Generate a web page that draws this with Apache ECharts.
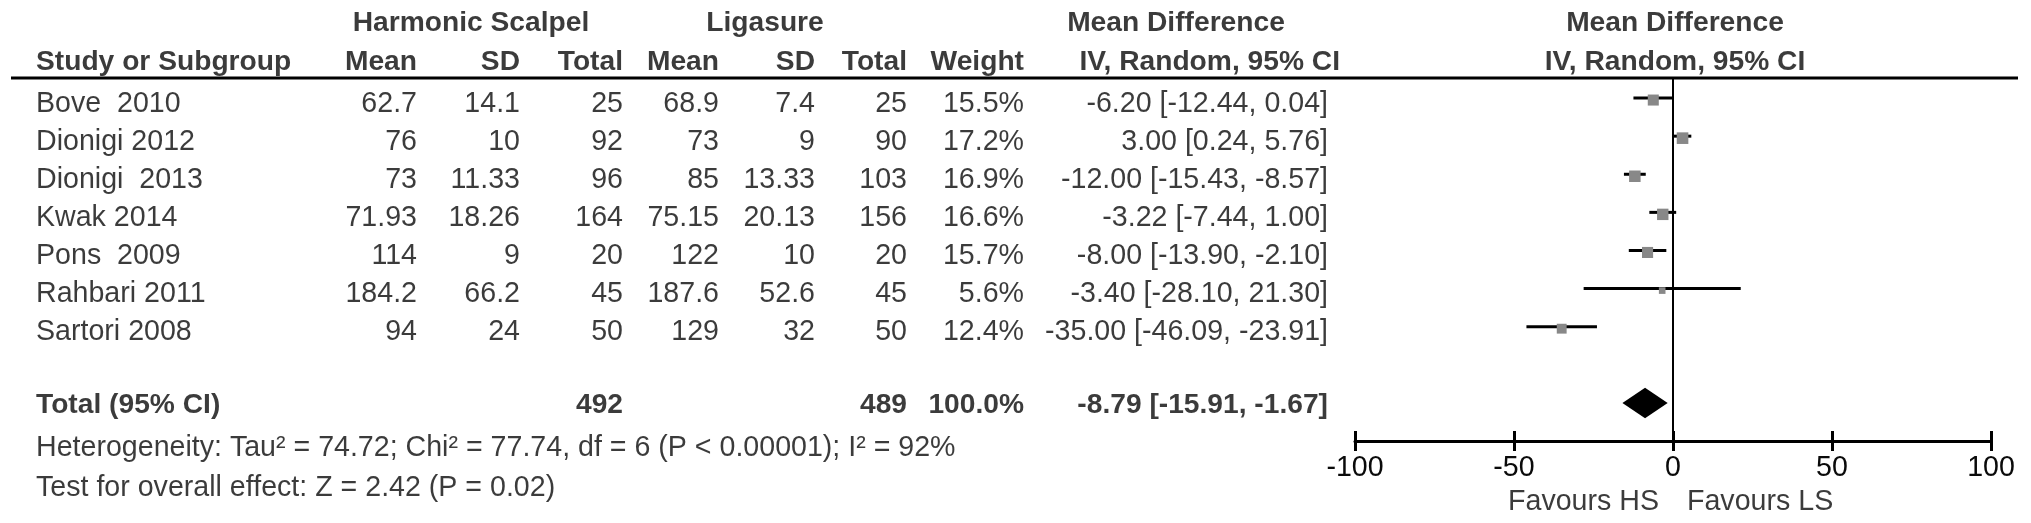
<!DOCTYPE html>
<html><head><meta charset="utf-8">
<script src="https://cdn.jsdelivr.net/npm/echarts@6/dist/echarts.min.js"></script>
<style>html,body{margin:0;padding:0;background:#fff}#c{width:2031px;height:523px}</style>
</head><body><div id="c"></div>
<script>
// ---------------- data ----------------
const studies = ['Bove  2010','Dionigi 2012','Dionigi  2013','Kwak 2014','Pons  2009','Rahbari 2011','Sartori 2008'];
const hsMean  = [62.7, 76, 73, 71.93, 114, 184.2, 94];
const hsSD    = [14.1, 10, 11.33, 18.26, 9, 66.2, 24];
const hsTotal = [25, 92, 96, 164, 20, 45, 50];
const lsMean  = [68.9, 73, 85, 75.15, 122, 187.6, 129];
const lsSD    = [7.4, 9, 13.33, 20.13, 10, 52.6, 32];
const lsTotal = [25, 90, 103, 156, 20, 45, 50];
const weight  = [15.5, 17.2, 16.9, 16.6, 15.7, 5.6, 12.4];
const md      = [-6.20, 3.00, -12.00, -3.22, -8.00, -3.40, -35.00];
const ciLow   = [-12.44, 0.24, -15.43, -7.44, -13.90, -28.10, -46.09];
const ciHigh  = [0.04, 5.76, -8.57, 1.00, -2.10, 21.30, -23.91];
const totalHS = 492, totalLS = 489, totalWeight = 100.0;
const pooled  = [-8.79, -15.91, -1.67];   // estimate, low, high
const xTicks  = [-100, -50, 0, 50, 100];
const totalLabel = 'Total (95% CI)';
const heterogeneity = 'Heterogeneity: Tau\u00B2 = 74.72; Chi\u00B2 = 77.74, df = 6 (P < 0.00001); I\u00B2 = 92%';
const overallEffect = 'Test for overall effect: Z = 2.42 (P = 0.02)';
const favours = ['Favours HS', 'Favours LS'];
const groupHeads = ['Harmonic Scalpel', 'Ligasure', 'Mean Difference', 'Mean Difference'];
const colHeads = ['Study or Subgroup', 'Mean', 'SD', 'Total', 'Mean', 'SD', 'Total', 'Weight', 'IV, Random, 95% CI', 'IV, Random, 95% CI'];

// ---------------- layout ----------------
const FONT = '"Liberation Sans", Arial, Helvetica, sans-serif';
const TEXT = '#0a0a0a';
const FS = 28.6, FSB = 28.2;
const W = 2031, H = 523;
const COL = {study:36, hsMean:417, hsSD:520, hsTot:623, lsMean:719, lsSD:815, lsTot:907, weight:1024, ci:1328, ciHead:1340, hsHead:471, lsHead:765, mdHead:1176, plotHead:1675};
const ROW0 = 104, PITCH = 38.1;
const Y = {head1:23, head2:62, total:405, het:448, test:488};
const rowY = i => ROW0 + PITCH * i;
const f2 = v => v.toFixed(2);
const ciText = (m, l, h) => f2(m) + ' [' + f2(l) + ', ' + f2(h) + ']';

function txt(items, align, bold) {
  const pos = align === 'right' ? 'left' : (align === 'left' ? 'right' : 'inside');
  return {
    type: 'scatter', xAxisIndex: 2, yAxisIndex: 1, symbolSize: 0, silent: true, clip: false,
    data: items.map(d => ({value: [d[0], d[1]], name: String(d[2])})),
    label: {show: true, position: pos, distance: 0, formatter: '{b}', color: TEXT,
      fontFamily: FONT, fontSize: bold ? FSB : FS, fontWeight: bold ? 'bold' : 'normal'}
  };
}
const colItems = (x, arr, fmt) => arr.map((v, i) => [x, rowY(i), fmt ? fmt(v, i) : v]);

const series = [];
// headers
series.push(txt([[COL.hsHead, Y.head1, groupHeads[0]], [COL.lsHead, Y.head1, groupHeads[1]],
                 [COL.mdHead, Y.head1, groupHeads[2]], [COL.plotHead, Y.head1, groupHeads[3]],
                 [COL.plotHead, Y.head2, colHeads[9]]], 'center', true));
series.push(txt([[COL.study, Y.head2, colHeads[0]]], 'left', true));
series.push(txt([[COL.hsMean, Y.head2, colHeads[1]], [COL.hsSD, Y.head2, colHeads[2]], [COL.hsTot, Y.head2, colHeads[3]],
                 [COL.lsMean, Y.head2, colHeads[4]], [COL.lsSD, Y.head2, colHeads[5]], [COL.lsTot, Y.head2, colHeads[6]],
                 [COL.weight, Y.head2, colHeads[7]], [COL.ciHead, Y.head2, colHeads[8]]], 'right', true));
// study rows
series.push(txt(colItems(COL.study, studies), 'left', false));
series.push(txt([].concat(
  colItems(COL.hsMean, hsMean), colItems(COL.hsSD, hsSD), colItems(COL.hsTot, hsTotal),
  colItems(COL.lsMean, lsMean), colItems(COL.lsSD, lsSD), colItems(COL.lsTot, lsTotal),
  colItems(COL.weight, weight, v => v.toFixed(1) + '%'),
  colItems(COL.ci, md, (v, i) => ciText(v, ciLow[i], ciHigh[i]))
), 'right', false));
// total row
series.push(txt([[COL.study, Y.total, totalLabel]], 'left', true));
series.push(txt([[COL.hsTot, Y.total, totalHS], [COL.lsTot, Y.total, totalLS],
                 [COL.weight, Y.total, totalWeight.toFixed(1) + '%'],
                 [COL.ci, Y.total, ciText(pooled[0], pooled[1], pooled[2])]], 'right', true));
// footnotes
series.push(txt([[COL.study, Y.het, heterogeneity], [COL.study, Y.test, overallEffect]], 'left', false));

// ---------------- forest plot ----------------
const TOTAL_ROW = 8;
// zero line
series.push({type: 'line', xAxisIndex: 0, yAxisIndex: 0, symbol: 'none', silent: true,
  data: [[0, -0.5], [0, 9]], lineStyle: {color: '#000', width: 2}});
// study CIs + squares
series.push({
  type: 'custom', xAxisIndex: 0, yAxisIndex: 0, silent: true, clip: false,
  data: md.map((m, i) => [m, ciLow[i], ciHigh[i], i, weight[i]]),
  renderItem: function (params, api) {
    const est = api.value(0), lo = api.value(1), hi = api.value(2), y = api.value(3), w = api.value(4);
    const p1 = api.coord([lo, y]), p2 = api.coord([hi, y]), pc = api.coord([est, y]);
    const s = 2.8 * Math.sqrt(w);
    return {type: 'group', children: [
      {type: 'line', shape: {x1: p1[0], y1: p1[1], x2: p2[0], y2: p2[1]}, style: {stroke: '#000', lineWidth: 3}},
      {type: 'rect', shape: {x: pc[0] - s / 2, y: pc[1] - s / 2 + 2, width: s, height: s}, style: {fill: '#888888'}}
    ]};
  }
});
// pooled diamond
series.push({
  type: 'custom', xAxisIndex: 0, yAxisIndex: 0, silent: true, clip: false,
  data: [[pooled[0], pooled[1], pooled[2], TOTAL_ROW]],
  renderItem: function (params, api) {
    const est = api.value(0), lo = api.value(1), hi = api.value(2), y = api.value(3);
    const a = api.coord([lo, y]), b = api.coord([est, y - 0.4]), c = api.coord([hi, y]), d = api.coord([est, y + 0.4]);
    return {type: 'polygon', shape: {points: [a, b, c, d]}, style: {fill: '#000'}};
  }
});
// favours labels
series.push({
  type: 'scatter', xAxisIndex: 0, yAxisIndex: 0, symbolSize: 0, silent: true, clip: false,
  data: [{value: [0, 10.6], name: favours[0], label: {position: 'left'}},
         {value: [0, 10.6], name: favours[1], label: {position: 'right'}}],
  label: {show: true, distance: 14, formatter: '{b}', color: TEXT, fontFamily: FONT, fontSize: FS}
});

const option = {
  backgroundColor: '#fff',
  animation: false,
  grid: [
    {left: 1355, width: 636, top: 79, height: 362},
    {left: 0, top: 0, width: W, height: H}
  ],
  xAxis: [
    {type: 'value', gridIndex: 0, position: 'bottom', min: xTicks[0], max: xTicks[xTicks.length - 1],
     interval: xTicks[1] - xTicks[0],
     axisLine: {show: true, onZero: false, lineStyle: {color: '#000', width: 3}},
     axisTick: {show: true, inside: false, length: 10, lineStyle: {color: '#000', width: 3}},
     axisLabel: {show: true, margin: 13, color: TEXT, fontFamily: FONT, fontSize: FS,
       formatter: v => { const k = xTicks.indexOf(v); return k >= 0 ? String(xTicks[k]) : ''; }},
     splitLine: {show: false}},
    {type: 'value', gridIndex: 0, position: 'bottom', min: xTicks[0], max: xTicks[xTicks.length - 1],
     interval: xTicks[1] - xTicks[0],
     axisLine: {show: false, onZero: false},
     axisTick: {show: true, inside: true, length: 10, lineStyle: {color: '#000', width: 3}},
     axisLabel: {show: false}, splitLine: {show: false}},
    {type: 'value', gridIndex: 1, min: 0, max: W, show: false}
  ],
  yAxis: [
    {type: 'value', gridIndex: 0, min: -0.5, max: 9, inverse: true, show: false},
    {type: 'value', gridIndex: 1, min: 0, max: H, inverse: true, show: false}
  ],
  graphic: [
    {type: 'line', silent: true, shape: {x1: 11, y1: 78, x2: 2018, y2: 78}, style: {stroke: '#000', lineWidth: 3}}
  ],
  series: series
};

const chart = echarts.init(document.getElementById('c'), null, {renderer: 'canvas'});
chart.setOption(option);
</script>
</body></html>
